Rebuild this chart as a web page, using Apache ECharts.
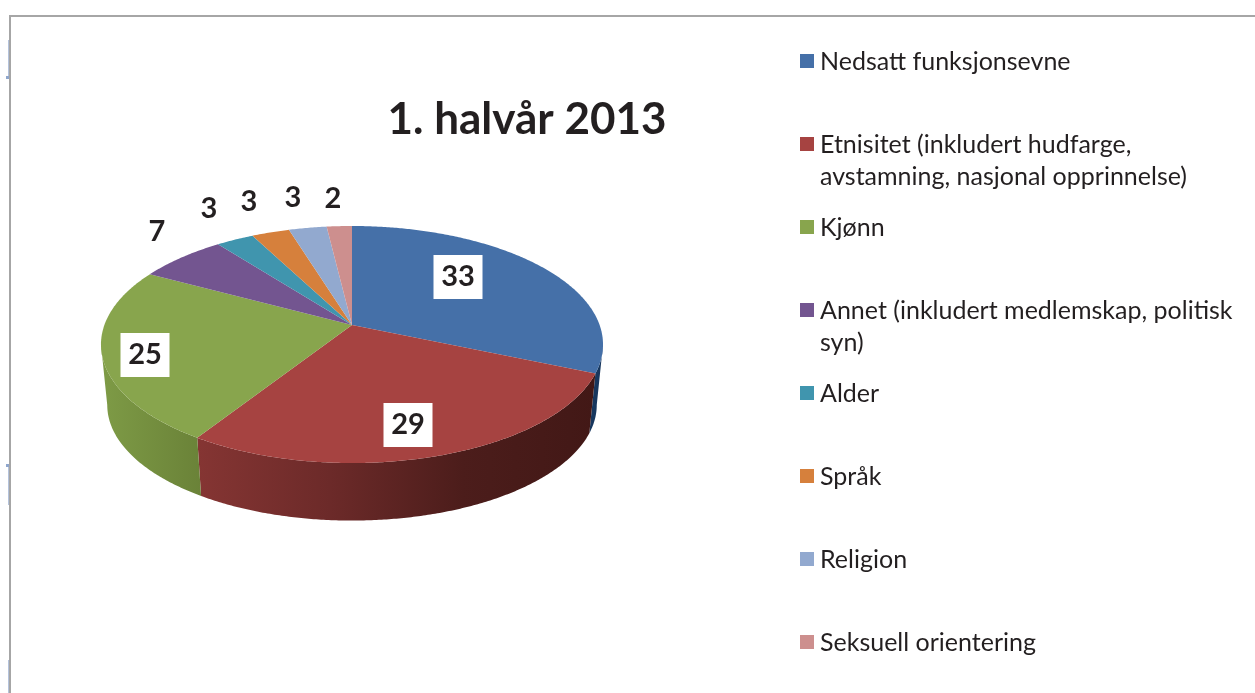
<!DOCTYPE html>
<html>
<head>
<meta charset="utf-8">
<title>1. halvår 2013</title>
<script src="https://cdn.jsdelivr.net/npm/echarts@6/dist/echarts.min.js"></script>
<style>
  html, body { margin: 0; padding: 0; background: #fff; }
  #chart { width: 1255px; height: 693px; }
</style>
</head>
<body>
<div id="chart"></div>
<script>
// data
const categories = [
  'Nedsatt funksjonsevne',
  'Etnisitet (inkludert hudfarge,\navstamning, nasjonal opprinnelse)',
  'Kjønn',
  'Annet (inkludert medlemskap, politisk\nsyn)',
  'Alder',
  'Språk',
  'Religion',
  'Seksuell orientering'
]
const values = [33, 29, 25, 7, 3, 3, 3, 2]
const colors = ['#4570a8', '#a64341', '#88a54d', '#735590', '#4095ae', '#d6803c', '#92a9cf', '#cd8f8e']
const title = '1. halvår 2013'

// side wall shades, only the three front slices show a wall
const sideStops = {
  0: ['#17375e', '#17375e'],
  1: ['#853533', '#6c2a29', '#4c1d1b', '#421816'],
  2: ['#7e9b46', '#6a8238']
}

// where the data labels sit (Excel's best fit placement)
const labelSpots = [
  { x: 458, y: 277, boxed: true },
  { x: 408, y: 425, boxed: true },
  { x: 145, y: 355, boxed: true },
  { x: 157, y: 232 },
  { x: 209, y: 209 },
  { x: 249, y: 202 },
  { x: 293, y: 198 },
  { x: 333, y: 199 }
]

const FONT = 'Lato, "Open Sans", sans-serif'
const TEXT_COLOR = '#231f20'

// perspective pie: circle on the table projected to the screen
const APEX_X = 352
const APEX_Y = 325
const RX = 247.6
const RY = 115.3
const PERSP = 0.1646
const WALL_SCALE = 0.975
const WALL_DROP = 61
// the wall's outline leaves the top face at the widest points of the ellipse
const WALL_FROM = 99.5
const WALL_TO = 260.5

const total = values.reduce((a, b) => a + b, 0)
const startAngles = values.map((_, i) =>
  values.slice(0, i).reduce((a, b) => a + b, 0) / total * 360)

const project = (deg) => {
  const t = deg * Math.PI / 180
  const w = 1 + PERSP * Math.cos(t)
  return [Math.sin(t) * RX / w, -Math.cos(t) * RY / w]
}
const topPoint = (deg) => {
  const p = project(deg)
  return [APEX_X + p[0], APEX_Y + p[1]]
}
const wallPoint = (deg) => {
  const p = project(deg)
  return [APEX_X + p[0] * WALL_SCALE, APEX_Y + p[1] * WALL_SCALE + WALL_DROP]
}
const arc = (from, to, fn) => {
  const pts = []
  for (let a = from; a < to; a += 0.5) pts.push(fn(a))
  pts.push(fn(to))
  return pts
}

const renderTop = (params) => {
  const i = params.dataIndex
  const from = startAngles[i]
  const to = from + values[i] / total * 360
  return {
    type: 'polygon',
    shape: { points: [[APEX_X, APEX_Y]].concat(arc(from, to, topPoint)) },
    style: { fill: colors[i] }
  }
}

const renderWall = (params) => {
  const i = params.dataIndex
  if (!sideStops[i]) return null
  const from = Math.max(startAngles[i], WALL_FROM)
  const to = Math.min(startAngles[i] + values[i] / total * 360, WALL_TO)
  const stops = sideStops[i].map((color, n, all) => ({ offset: n / (all.length - 1), color }))
  return {
    type: 'polygon',
    shape: { points: arc(from, to, topPoint).concat(arc(from, to, wallPoint).reverse()) },
    style: { fill: new echarts.graphic.LinearGradient(0, 0, 1, 0, stops) }
  }
}

const renderLabel = (params) => {
  const spot = labelSpots[params.dataIndex]
  const children = []
  if (spot.boxed) {
    children.push({
      type: 'rect',
      shape: { x: spot.x - 24.5, y: spot.y - 22, width: 49, height: 44 },
      style: { fill: '#fff' }
    })
  }
  children.push({
    type: 'text',
    style: {
      text: String(values[params.dataIndex]),
      x: spot.x,
      y: spot.y,
      align: 'center',
      verticalAlign: 'middle',
      font: 'bold 29px ' + FONT,
      fill: TEXT_COLOR
    }
  })
  return { type: 'group', children }
}

// legend rows are evenly spaced and the swatch stays on the first line
const legendGraphics = categories.flatMap((name, i) => {
  const y = 61 + i * 83
  return [
    { type: 'rect', shape: { x: 800, y: y - 7, width: 14, height: 14 }, style: { fill: colors[i] } },
    {
      type: 'text',
      style: {
        text: name,
        x: 820,
        y: y - 15,
        font: '25px ' + FONT,
        lineHeight: 32,
        fill: TEXT_COLOR
      }
    }
  ]
})

const frameGraphics = [
  { type: 'line', shape: { x1: 8.5, y1: 40, x2: 8.5, y2: 78 }, style: { stroke: '#b4c3dc', lineWidth: 1 } },
  { type: 'rect', shape: { x: 6, y: 76, width: 3, height: 3 }, style: { fill: '#8fa6cc' } },
  { type: 'line', shape: { x1: 8.5, y1: 465, x2: 8.5, y2: 505 }, style: { stroke: '#b4c3dc', lineWidth: 1 } },
  { type: 'rect', shape: { x: 6, y: 464, width: 3, height: 3 }, style: { fill: '#8fa6cc' } },
  { type: 'line', shape: { x1: 8.5, y1: 660, x2: 8.5, y2: 693 }, style: { stroke: '#b4c3dc', lineWidth: 1 } },
  { type: 'line', shape: { x1: 10, y1: 16, x2: 1255, y2: 16 }, style: { stroke: '#a6a6a6', lineWidth: 2 } },
  { type: 'line', shape: { x1: 10, y1: 15, x2: 10, y2: 693 }, style: { stroke: '#a6a6a6', lineWidth: 2 } }
]

const chart = echarts.init(document.getElementById('chart'), null, { renderer: 'canvas' })
chart.setOption({
  animation: false,
  backgroundColor: '#fff',
  title: {
    text: title,
    left: 522,
    top: 93,
    textAlign: 'center',
    textStyle: { fontFamily: FONT, fontSize: 44, fontWeight: 'bold', color: TEXT_COLOR }
  },
  graphic: frameGraphics.concat(legendGraphics),
  series: [
    { type: 'custom', coordinateSystem: 'none', z: 2, silent: true, data: values, renderItem: renderWall },
    { type: 'custom', coordinateSystem: 'none', z: 3, silent: true, data: values, renderItem: renderTop },
    { type: 'custom', coordinateSystem: 'none', z: 4, silent: true, data: values, renderItem: renderLabel }
  ]
})
</script>
</body>
</html>
